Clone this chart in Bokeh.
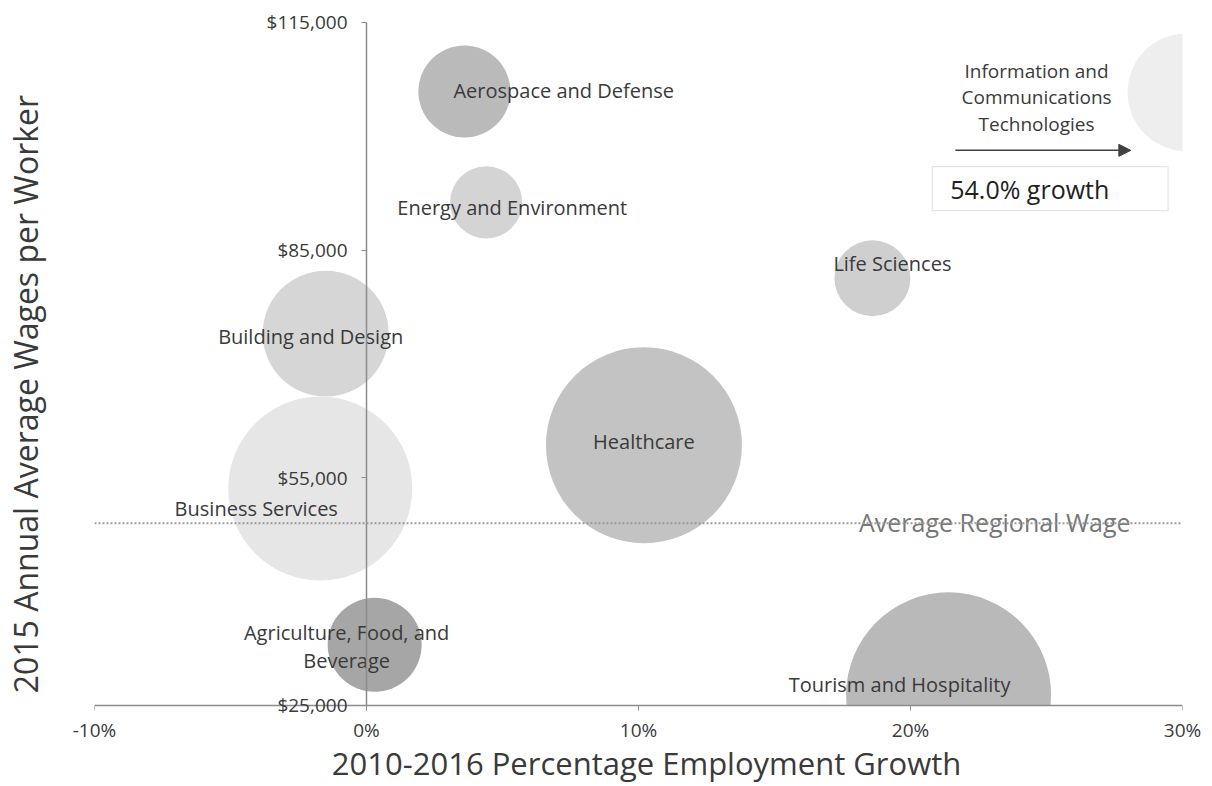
import numpy as np
from bokeh.plotting import figure
from bokeh.models import (LinearAxis, Range1d, FixedTicker, NumeralTickFormatter,
                          PrintfTickFormatter, Span, Arrow, NormalHead, BoxAnnotation,
                          ColumnDataSource)
from bokeh.core.properties import value
from bokeh.embed import file_html
from bokeh.resources import INLINE

# ---------------- data ----------------
clusters = ["Aerospace and Defense", "Energy and Environment", "Life Sciences",
            "Building and Design", "Healthcare", "Business Services",
            "Agriculture, Food, and\nBeverage", "Tourism and Hospitality"]
growth_pct = [3.6, 4.4, 18.6, -1.5, 10.2, -1.7, 0.3, 21.4]          # 2010-2016 employment growth, %
avg_wage = [105900, 91300, 81300, 74000, 59300, 53600, 33000, 26400]  # 2015 average wage, $
employment_k = [21.2, 13.0, 14.4, 39.7, 96.0, 84.6, 22.1, 105.1]     # bubble size (employment, thousands)
bubble_colors = ["#bababa", "#d4d4d4", "#cfcfcf", "#d6d6d6", "#c3c3c3",
                 "#e6e6e6", "#a6a6a6", "#b9b9b9"]

ict_name = "Information and\nCommunications\nTechnologies"
ict_growth_pct = 54.0
ict_wage = 105800
ict_employment_k = 34.8
ict_color = "#eeeeee"

average_regional_wage = 49000

x_ticks = [-10, 0, 10, 20, 30]
y_ticks = [25000, 55000, 85000, 115000]

# label placement (screen-pixel offsets from bubble centre) -- styling only
label_dx = [-11, 26, 20, -15, 0, -64, -28, -49]
label_dy = [-1, 5, -15, 3, -4, 20, 2, -10]
label_align = ["left", "center", "center", "center", "center", "center", "center", "center"]

FONT = "Open Sans"
TXT = "#3a3a3a"
AXIS = "#8c8c8c"
NBSP = "\u00a0"

# ---------------- figure ----------------
y_top_pad = 1580     # headroom so the top tick label is not clipped
y_bottom_pad = 1845  # room under the x axis for the bottom tick label
p = figure(width=1202, height=786,
           x_range=Range1d(x_ticks[0], x_ticks[-1]),
           y_range=Range1d(y_ticks[0] - y_bottom_pad, y_ticks[-1] + y_top_pad),
           x_axis_location=None, y_axis_location=None,
           output_backend="svg", toolbar_location=None,
           min_border_left=92, min_border_right=20,
           min_border_top=10, min_border_bottom=0)
p.outline_line_color = None
p.grid.visible = False
p.xgrid.visible = False
p.ygrid.visible = False
p.background_fill_color = "white"
p.border_fill_color = "white"

size_scale = 20.0  # px of diameter per sqrt(thousand jobs)

# ICT is off-scale (54% growth): drawn at the right edge and clipped by the frame
ict_x_display = x_ticks[-1] + 0.15

src = ColumnDataSource(dict(
    x=growth_pct + [ict_x_display],
    y=avg_wage + [ict_wage],
    size=[size_scale * np.sqrt(e) for e in employment_k + [ict_employment_k]],
    color=bubble_colors + [ict_color],
))
p.scatter("x", "y", size="size", fill_color="color", line_color=None, source=src)

# bubbles are cut off at the x axis
p.add_layout(BoxAnnotation(top=y_ticks[0], bottom=y_ticks[0] - 3 * y_bottom_pad,
                           fill_color="white", fill_alpha=1.0,
                           line_color=None, level="glyph"))

# average regional wage line
p.add_layout(Span(location=average_regional_wage, dimension="width",
                  line_color="#9a9a9a", line_width=2, line_dash="2 2"))

# ---------------- axes ----------------
# x axis line + ticks sitting at $25,000
xaxis_line = LinearAxis(fixed_location=y_ticks[0],
                        ticker=FixedTicker(ticks=x_ticks),
                        axis_line_color=AXIS, axis_line_width=1.5,
                        major_tick_line_color=AXIS, major_tick_out=5, major_tick_in=0,
                        minor_tick_line_color=None, major_label_text_color=None)
p.add_layout(xaxis_line, "below")

# x tick labels + title (its own rule is white, hiding the frame edge)
xaxis = LinearAxis(ticker=FixedTicker(ticks=x_ticks),
                   formatter=PrintfTickFormatter(format="%d%%"),
                   axis_label=NBSP * 2 + "2010-2016 Percentage Employment Growth",
                   axis_label_standoff=-4,
                   axis_label_text_font=FONT, axis_label_text_font_size="31px",
                   axis_label_text_font_style="normal", axis_label_text_color=TXT,
                   axis_line_color="white", axis_line_width=4,
                   major_tick_line_color=None,
                   major_tick_out=0, major_tick_in=0, minor_tick_line_color=None,
                   major_label_standoff=-3,
                   major_label_text_font=FONT, major_label_text_font_size="19px",
                   major_label_text_color=TXT)
p.add_layout(xaxis, "below")

yaxis = LinearAxis(fixed_location=0,
                   bounds=(y_ticks[0], y_ticks[-1]),
                   ticker=FixedTicker(ticks=y_ticks),
                   formatter=NumeralTickFormatter(format="$0,0"),
                   axis_line_color=AXIS, axis_line_width=1.5,
                   major_tick_line_color=AXIS, major_tick_out=5, major_tick_in=0,
                   minor_tick_line_color=None,
                   major_label_standoff=14,
                   major_label_text_font=FONT, major_label_text_font_size="19px",
                   major_label_text_color=TXT)
p.add_layout(yaxis, "left")

ytitle = LinearAxis(ticker=FixedTicker(ticks=[]),
                    axis_label="2015 Annual Average Wages per Worker" + NBSP * 7,
                    axis_label_standoff=48,
                    axis_label_text_font=FONT, axis_label_text_font_size="32px",
                    axis_label_text_font_style="normal", axis_label_text_color=TXT,
                    axis_line_color=None, major_tick_line_color=None,
                    minor_tick_line_color=None, major_tick_out=0, minor_tick_out=0)
p.add_layout(ytitle, "left")

# ---------------- labels ----------------
lsrc = ColumnDataSource(dict(x=growth_pct, y=avg_wage, text=clusters,
                             dx=label_dx, dy=label_dy, align=label_align))
p.text("x", "y", text="text", x_offset="dx", y_offset="dy", text_align="align",
       text_baseline="middle", text_font=value(FONT), text_font_size="20px",
       text_color=TXT, text_line_height=1.05, source=lsrc)

# ICT annotation
p.add_layout(BoxAnnotation(left=20.8, right=29.47, bottom=90200, top=96000,
                           fill_color="white", fill_alpha=1.0, level="underlay",
                           line_color="#a8a8a8", line_width=1.2))
p.text([ict_x_display], [ict_wage], text=[ict_name], x_offset=-150, y_offset=5,
       text_align="center", text_baseline="middle", text_font=value(FONT),
       text_font_size="19px", text_color=TXT, text_line_height=1.02)
p.add_layout(Arrow(x_start=21.65, y_start=98150, x_end=28.1, y_end=98150,
                   line_color="#404040", line_width=1.5,
                   end=NormalHead(size=12, fill_color="#404040", line_color="#404040")))
p.text([20.8], [93100], text=[f"{ict_growth_pct:.1f}% growth"], x_offset=18,
       text_align="left", text_baseline="middle", text_font=value(FONT),
       text_font_size="25px", text_color="#222222")

# Average regional wage label
p.text([x_ticks[-1]], [average_regional_wage], text=["Average Regional Wage"], x_offset=-52,
       y_offset=-1, text_align="right", text_baseline="alphabetic", text_font=value(FONT),
       text_font_size="25px", text_color="#767676")

open("out.html", "w").write(file_html(p, INLINE))
